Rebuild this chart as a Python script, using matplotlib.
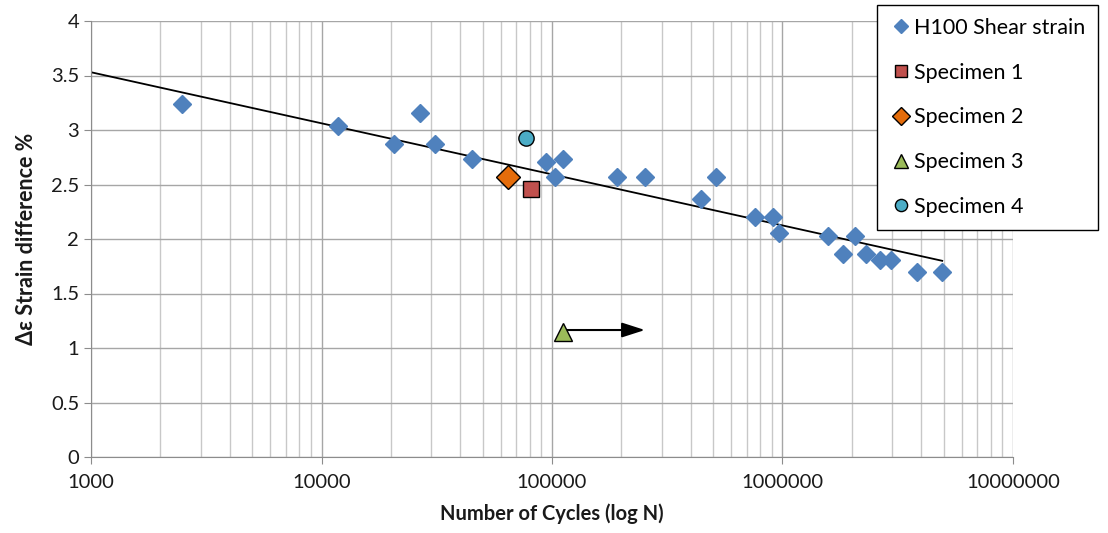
import matplotlib
matplotlib.use("Agg")
import matplotlib.pyplot as plt
from matplotlib.ticker import FixedLocator, LogLocator, NullFormatter, FuncFormatter
import numpy as np

plt.rcParams['font.family'] = ['Lato', 'DejaVu Sans']

# H100 shear strain data (cycles, strain difference %)
h100_cycles = [2480, 11800, 20600, 26700, 31000, 45000, 94200, 103000, 111600,
               191500, 253000, 443000, 514000, 760000, 906000, 966000, 1570000,
               1837000, 2066000, 2296000, 2650000, 2945000, 3840000, 4930000]
h100_strain = [3.24, 3.04, 2.87, 3.16, 2.87, 2.73, 2.71, 2.57, 2.73,
               2.57, 2.57, 2.37, 2.57, 2.20, 2.20, 2.055, 2.03,
               1.86, 2.03, 1.86, 1.81, 1.81, 1.70, 1.70]

# specimens
spec1_cycles, spec1_strain = [80900], [2.455]
spec2_cycles, spec2_strain = [64600], [2.57]
spec3_cycles, spec3_strain = [112000], [1.15]
spec4_cycles, spec4_strain = [76900], [2.93]
spec3_arrow_to = 253000  # run-out arrow end

# log trendline  y = a + b*log10(N)
trend_a = 4.9355
trend_b = -0.4685
trend_range = [1000, 4930000]

fig = plt.figure(figsize=(11.08, 5.33), dpi=100)
ax = fig.add_axes([91 / 1108, 76 / 533, 922 / 1108, 436 / 533])

ax.set_xscale('log')
ax.set_xlim(1000, 10000000)
ax.set_ylim(0, 4)

# grid
ax.xaxis.set_minor_locator(LogLocator(base=10, subs=np.arange(2, 10)))
ax.xaxis.set_minor_formatter(NullFormatter())
ax.grid(True, which='major', axis='both', color='#a6a6a6', lw=1.0)
ax.grid(True, which='minor', axis='x', color='#c8c8c8', lw=1.0)
ax.set_axisbelow(True)

ax.set_yticks(np.arange(0, 4.01, 0.5))
ax.yaxis.set_major_formatter(FuncFormatter(lambda v, p: f"{v:g}"))
ax.xaxis.set_major_locator(FixedLocator([1e3, 1e4, 1e5, 1e6, 1e7]))
ax.xaxis.set_major_formatter(FuncFormatter(lambda v, p: f"{int(round(v))}"))

for s in ['top', 'right']:
    ax.spines[s].set_visible(False)
for s in ['left', 'bottom']:
    ax.spines[s].set_color('#8c8c8c')
ax.tick_params(axis='both', which='major', colors='#8c8c8c', length=5,
               labelcolor='#1a1a1a', labelsize=14.5)
ax.tick_params(axis='x', which='minor', length=0)
ax.tick_params(axis='x', pad=7)

# trend line
tx = np.array(trend_range, dtype=float)
ax.plot(tx, trend_a + trend_b * np.log10(tx), color='black', lw=1.3, zorder=2)

ax.plot(h100_cycles, h100_strain, 'D', color='#4f81bd', ms=9.5, mec='#4f81bd',
        label='H100 Shear strain', zorder=3)
ax.plot(spec1_cycles, spec1_strain, 's', color='#c0504d', ms=11, mec='black',
        mew=1.0, label='Specimen 1', zorder=4)
ax.plot(spec2_cycles, spec2_strain, 'D', color='#e46c0a', ms=12, mec='black',
        mew=1.0, label='Specimen 2', zorder=4)
ax.annotate('', xy=(spec3_arrow_to, spec3_strain[0] + 0.015),
            xytext=(spec3_cycles[0], spec3_strain[0] + 0.015),
            arrowprops=dict(arrowstyle='-|>,head_length=1.4,head_width=0.45',
                            color='black', lw=1.5, shrinkA=0, shrinkB=0), zorder=3)
ax.plot(spec3_cycles, spec3_strain, '^', color='#9bbb59', ms=13, mec='black',
        mew=1.0, label='Specimen 3', zorder=4)
ax.plot(spec4_cycles, spec4_strain, 'o', color='#4bacc6', ms=11, mec='black',
        mew=1.0, label='Specimen 4', zorder=4)

ax.set_xlabel('Number of Cycles (log N)', fontsize=14.5, fontweight='bold',
              color='#1a1a1a', labelpad=9)
ax.set_ylabel('Δε Strain difference %', fontsize=15.5, fontweight='bold',
              color='#1a1a1a', labelpad=10)

leg = fig.legend(loc='upper left', bbox_to_anchor=(877 / 1108, 1 - 5 / 533),
                 borderaxespad=0, fontsize=15.5, labelspacing=1.15,
                 handletextpad=0.1, handlelength=1.0, markerscale=0.8,
                 borderpad=0.6, fancybox=False, framealpha=1, edgecolor='black')
leg.get_frame().set_linewidth(1.0)

fig.savefig('out.png', dpi=100)
